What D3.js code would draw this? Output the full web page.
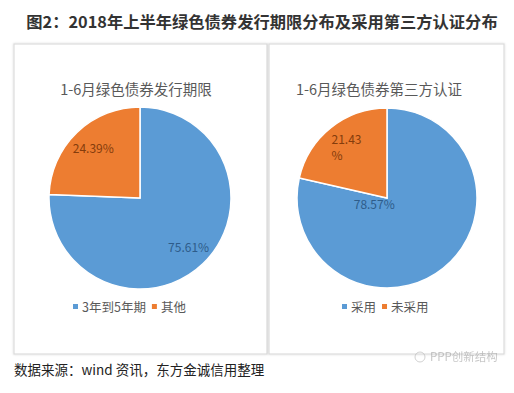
<!DOCTYPE html>
<html>
<head>
<meta charset="utf-8">
<script src="https://cdn.jsdelivr.net/npm/d3@7"></script>
<style>
  body { margin: 0; background: #fff; }
  text { font-family: "Noto Sans CJK SC", "Microsoft YaHei", sans-serif; }
</style>
</head>
<body>
<svg id="svg"></svg>
<script>
// data
const termCategories = ["3年到5年期", "其他"];
const termValues = [75.61, 24.39];
const certCategories = ["采用", "未采用"];
const certValues = [78.57, 21.43];
const chartTitles = ["1-6月绿色债券发行期限", "1-6月绿色债券第三方认证"];

let layout = {"width": 514, "height": 393};

const colorScale = d3.scaleOrdinal().domain([0, 1]).range(["#5b9bd5", "#ed7d31"]);
const labelColor = ["#2e5c8a", "#843c0c"];

let svg = d3.select("#svg")
  .attr("width", layout.width)
  .attr("height", layout.height);

// main title
svg.append("text")
  .attr("x", 262).attr("y", 28)
  .attr("text-anchor", "middle")
  .attr("font-size", 16.3).attr("font-weight", "bold")
  .attr("fill", "#333")
  .text("图2：2018年上半年绿色债券发行期限分布及采用第三方认证分布");

// panels
const defs = svg.append("defs");
const f = defs.append("filter").attr("id", "shadow").attr("x", "-5%").attr("y", "-5%").attr("width", "110%").attr("height", "110%");
f.append("feDropShadow").attr("dx", 0).attr("dy", 0).attr("stdDeviation", 1).attr("flood-color", "#000").attr("flood-opacity", 0.15);

const panels = [
  {x: 14, y: 44, w: 253, h: 310, cx: 140, cy: 198, r: 91, tx: 136, legendX: 73,
   cats: termCategories, vals: termValues,
   labels: [{f: 0.77, dx: 0, dy: 0, lines: null}, {f: 0.74, dx: 0, dy: 0, lines: null}]},
  {x: 269, y: 44, w: 235, h: 310, cx: 387, cy: 198, r: 90, tx: 379, legendX: 342,
   cats: certCategories, vals: certValues,
   labels: [{f: 0.2, dx: -24, dy: -7, lines: null}, {f: 0.74, dx: 0, dy: 0, lines: ["21.43", "%"]}]}
];

panels.forEach((p, k) => {
  svg.append("rect")
    .attr("x", p.x).attr("y", p.y).attr("width", p.w).attr("height", p.h)
    .attr("fill", "#fff").attr("stroke", "#dcdcdc").attr("stroke-width", 1.2)
    .attr("filter", "url(#shadow)");

  svg.append("text")
    .attr("x", p.tx).attr("y", p.y + 51)
    .attr("text-anchor", "middle")
    .attr("font-size", 14.5).attr("fill", "#595959")
    .text(chartTitles[k]);

  const pie = d3.pie().sort(null).value(d => d)
    .startAngle(0).endAngle(2 * Math.PI);
  const arcs = pie(p.vals);
  const arc = d3.arc().innerRadius(0).outerRadius(p.r);

  const g = svg.append("g").attr("transform", `translate(${p.cx},${p.cy})`);
  g.selectAll("path")
    .data(arcs)
    .join("path")
    .attr("d", arc)
    .attr("fill", (d, i) => colorScale(i))
    .attr("stroke", "#fff").attr("stroke-width", 1.5);

  g.selectAll(".lbl")
    .data(arcs)
    .join("text")
    .attr("class", "lbl")
    .each(function(d, i) {
      const cfg = p.labels[i];
      const la = d3.arc().innerRadius(p.r * cfg.f).outerRadius(p.r * cfg.f);
      const c = la.centroid(d);
      const t = d3.select(this)
        .attr("font-size", 12)
        .attr("fill", labelColor[i]);
      if (cfg.lines) {
        t.attr("text-anchor", "start");
        cfg.lines.forEach((s, j) => {
          t.append("tspan")
            .attr("x", c[0] - 14).attr("y", c[1] - 2 + j * 16)
            .text(s);
        });
      } else {
        t.attr("text-anchor", "middle")
          .attr("x", c[0] + cfg.dx).attr("y", c[1] + cfg.dy + 4)
          .text(d3.format(".2f")(d.data) + "%");
      }
    });

  // legend
  const lg = svg.append("g").attr("transform", `translate(${p.legendX},${p.y + 263})`);
  let xo = 0;
  p.cats.forEach((c, i) => {
    lg.append("rect")
      .attr("x", xo).attr("y", -3).attr("width", 5).attr("height", 5)
      .attr("fill", colorScale(i));
    const t = lg.append("text")
      .attr("x", xo + 9).attr("y", 4.5)
      .attr("font-size", 12.5).attr("fill", "#595959")
      .text(c);
    xo += 9 + t.node().getComputedTextLength() + 6;
  });
});

// source note
svg.append("text")
  .attr("x", 14).attr("y", 375)
  .attr("font-size", 13.5).attr("fill", "#222")
  .text("数据来源：wind 资讯，东方金诚信用整理");

// watermark
const wm = svg.append("g").attr("opacity", 0.55);
wm.append("circle").attr("cx", 420).attr("cy", 357).attr("r", 5)
  .attr("fill", "none").attr("stroke", "#aaa").attr("stroke-width", 1);
wm.append("text")
  .attr("x", 430).attr("y", 361)
  .attr("font-size", 11.5).attr("fill", "#999")
  .text("PPP创新结构");
</script>
</body>
</html>
